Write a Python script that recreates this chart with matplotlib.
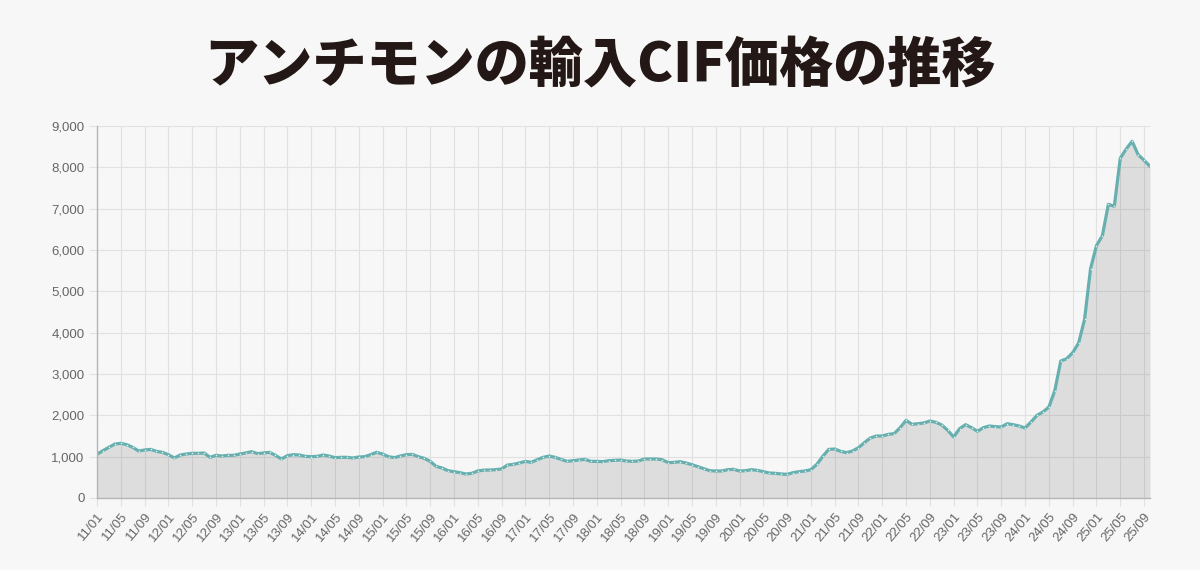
import numpy as np
import matplotlib.pyplot as plt
from matplotlib.ticker import FuncFormatter

# month labels 2011/01 .. 2025/10
months = [f"{y:02d}/{m:02d}" for y in range(11, 26) for m in range(1, 13)][:178]

# antimony import CIF price (per month)
prices = [
    1056, 1145, 1226, 1306, 1322, 1290, 1226, 1137, 1161, 1177, 1129, 1105,
    1048, 968, 1040, 1064, 1081, 1081, 1089, 984, 1032, 1016, 1032, 1032,
    1064, 1089, 1121, 1073, 1089, 1105, 1032, 944, 1024, 1048, 1040, 1008,
    1000, 1008, 1040, 1016, 976, 984, 984, 968, 992, 1000, 1048, 1105,
    1064, 1000, 976, 1016, 1048, 1056, 1000, 960, 887, 766, 726, 661,
    637, 613, 581, 597, 653, 675, 677, 685, 702, 798, 815, 847,
    887, 863, 927, 984, 1016, 984, 935, 887, 903, 919, 935, 887,
    887, 879, 903, 911, 919, 895, 887, 895, 944, 944, 944, 927,
    855, 863, 878, 847, 806, 758, 710, 661, 653, 653, 685, 694,
    653, 661, 685, 669, 637, 605, 597, 581, 573, 613, 637, 653,
    685, 815, 1008, 1177, 1185, 1129, 1097, 1137, 1218, 1340, 1452, 1500,
    1500, 1540, 1557, 1702, 1879, 1782, 1798, 1815, 1863, 1831, 1766, 1637,
    1476, 1678, 1774, 1702, 1613, 1702, 1742, 1726, 1718, 1798, 1774, 1742,
    1694, 1839, 2000, 2081, 2200, 2600, 3314, 3370, 3515, 3749, 4320, 5542,
    6106, 6348, 7106, 7057, 8218, 8444, 8629, 8307, 8170, 8025,
]

title = "アンチモンの輸入CIF価格の推移"

bg = "#f7f7f7"
teal = "#68b0b0"
gridc = "#e1e1e1"

fig = plt.figure(figsize=(12, 5.7), dpi=100, facecolor=bg)
ax = fig.add_axes([97 / 1200, 72 / 570, 1053 / 1200, 372 / 570])
ax.set_facecolor(bg)

x = np.arange(len(prices))
ax.fill_between(x, prices, 0, color="black", alpha=0.1, linewidth=0, zorder=2)
ax.plot(x, prices, color=teal, linewidth=2.3, zorder=3)
ax.plot(x, prices, linestyle="none", marker="o", markersize=1.1,
        markerfacecolor="white", markeredgewidth=0, alpha=0.8, zorder=4)

ax.set_xlim(0, len(prices) - 1)
ax.set_ylim(0, 9000)
ax.set_yticks(range(0, 9001, 1000))
ax.yaxis.set_major_formatter(FuncFormatter(lambda v, p: f"{int(v):,}"))
ticks = list(range(0, len(prices), 4))
ax.set_xticks(ticks)
ax.set_xticklabels([months[i] for i in ticks], rotation=50, ha="right",
                   rotation_mode="anchor")

ax.set_axisbelow(True)
ax.grid(True, color=gridc, linewidth=0.8)
for s in ["top", "right"]:
    ax.spines[s].set_visible(False)
for s in ["left", "bottom"]:
    ax.spines[s].set_color("#b5b5b5")
    ax.spines[s].set_linewidth(1.0)
    ax.spines[s].set_zorder(5)
ax.tick_params(axis="both", length=6, width=0.8, color=gridc,
               labelcolor="#666666", labelsize=9.5, pad=3)
for lab in ax.get_xticklabels() + ax.get_yticklabels():
    lab.set_family(["Liberation Sans", "DejaVu Sans"])

fig.text(0.5, 1 - 66 / 570, title, ha="center", va="center", fontsize=39,
         fontweight="black", color="#231815",
         family=["Noto Sans CJK JP", "DejaVu Sans"])

fig.savefig("out.png", dpi=100, facecolor=bg)
